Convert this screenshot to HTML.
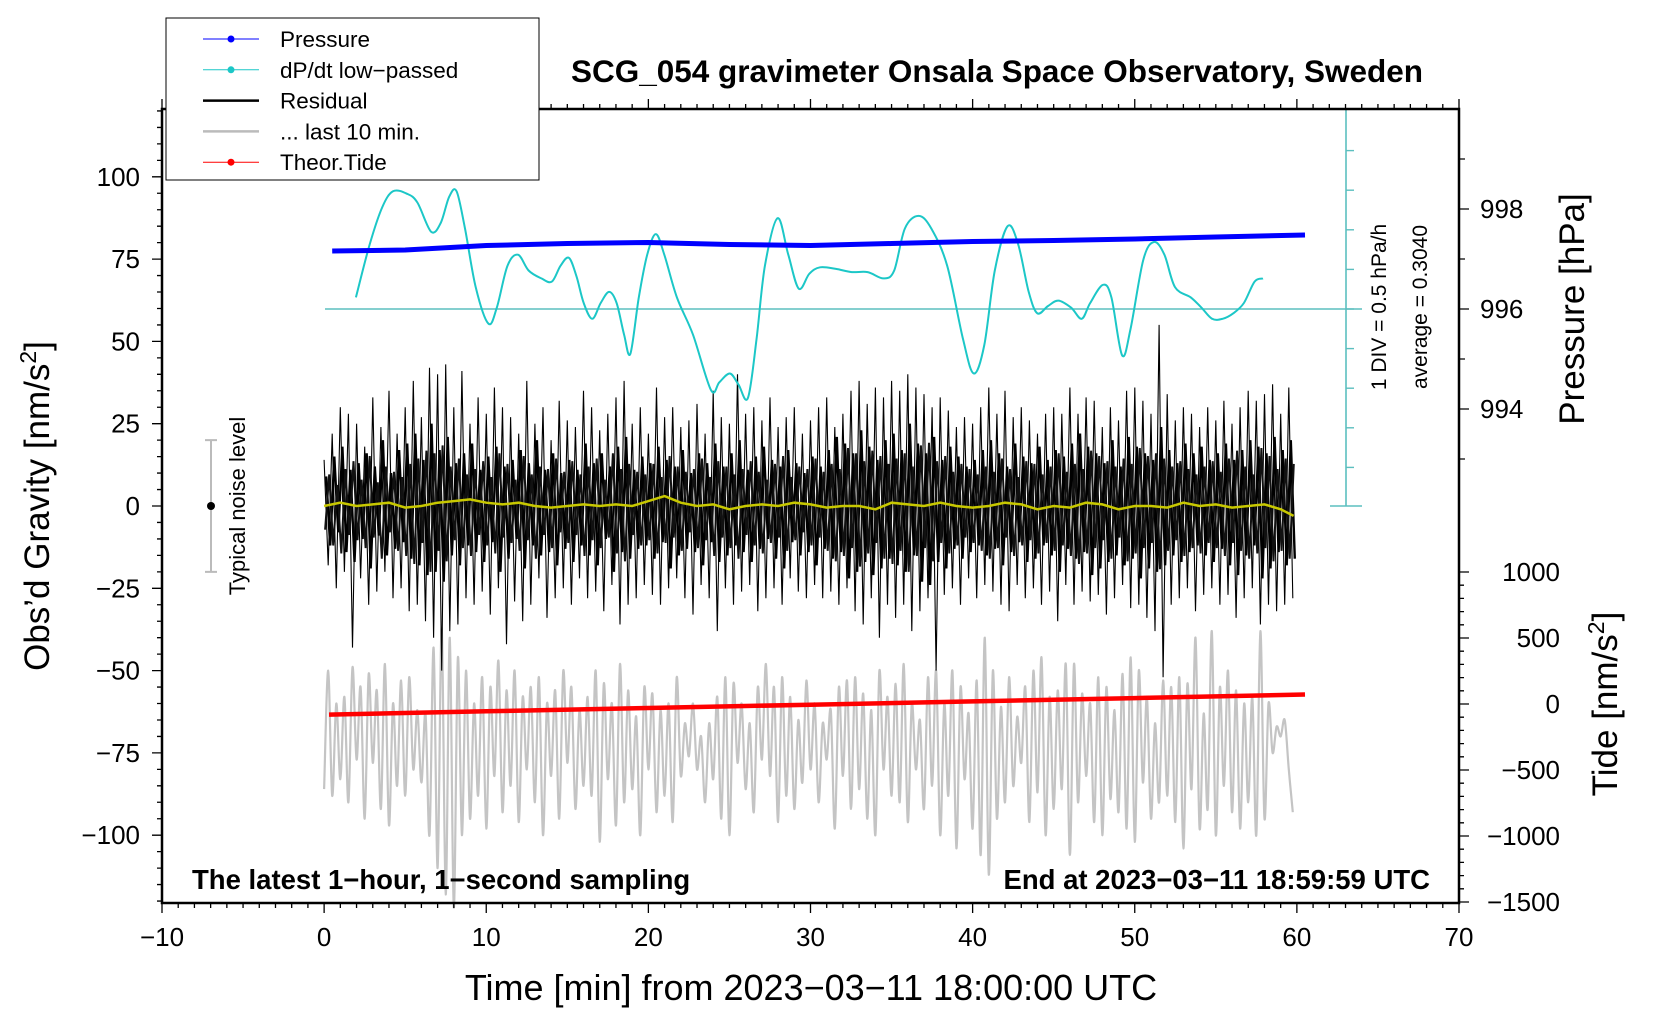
<!DOCTYPE html>
<html><head><meta charset="utf-8">
<style>
html,body{margin:0;padding:0;background:#fff;overflow:hidden;}
svg{display:block;font-family:"Liberation Sans",sans-serif;}
</style></head>
<body>
<svg id="chart" width="1660" height="1020" viewBox="0 0 1660 1020" xmlns="http://www.w3.org/2000/svg">
<rect width="1660" height="1020" fill="#fff"/>
<g id="plot"></g>
<g id="axes"></g>
<text x="997" y="82" text-anchor="middle" font-size="31.5" font-weight="bold">SCG_054 gravimeter Onsala Space Observatory, Sweden</text>
<text x="811" y="1000" text-anchor="middle" font-size="36">Time [min] from 2023−03−11 18:00:00 UTC</text>
<text transform="translate(49,506) rotate(-90)" text-anchor="middle" font-size="35">Obs’d Gravity [nm/s<tspan font-size="23" dy="-13">2</tspan><tspan dy="13">]</tspan></text>
<text transform="translate(1584,309) rotate(-90)" text-anchor="middle" font-size="35">Pressure [hPa]</text>
<text transform="translate(1617,704) rotate(-90)" text-anchor="middle" font-size="35">Tide [nm/s<tspan font-size="23" dy="-13">2</tspan><tspan dy="13">]</tspan></text>
<text transform="translate(1386,307) rotate(-90)" text-anchor="middle" font-size="21">1 DIV = 0.5 hPa/h</text>
<text transform="translate(1427,307) rotate(-90)" text-anchor="middle" font-size="21">average = 0.3040</text>
<text transform="translate(245,506) rotate(-90)" text-anchor="middle" font-size="22">Typical noise level</text>
<text x="192" y="889" font-size="27.5" font-weight="bold">The latest 1−hour, 1−second sampling</text>
<text x="1430" y="889" text-anchor="end" font-size="27.5" font-weight="bold">End at 2023−03−11 18:59:59 UTC</text>
<g id="legend"></g>
</svg>
<script>
// ---- data ----
const xTicks=[-10,0,10,20,30,40,50,60,70];
const yTicks=[-100,-75,-50,-25,0,25,50,75,100];
const pTicks=[994,996,998];
const tideTicks=[-1500,-1000,-500,0,500,1000];
const dpdtT=[1.96,2.81,3.59,4.25,5.10,5.75,6.60,7.19,7.71,8.17,8.69,9.35,10.13,10.65,11.31,11.96,12.61,13.40,14.05,14.58,15.10,15.56,16.01,16.54,17.06,17.58,18.04,18.50,18.89,19.41,19.93,20.46,20.98,21.76,22.75,23.86,24.38,25.03,25.56,26.14,26.67,27.19,27.97,28.63,29.28,29.93,30.59,31.57,32.55,33.53,34.51,35.16,35.82,36.67,37.45,38.43,39.41,40.07,40.72,41.37,42.16,42.81,43.46,43.99,44.64,45.29,46.08,46.73,47.25,48.04,48.56,49.22,49.74,50.52,51.18,51.83,52.48,53.46,54.12,54.77,55.42,56.08,56.73,57.39,57.91];
const dpdtV=[0.45,1.12,1.59,1.79,1.76,1.65,1.28,1.39,1.72,1.79,1.32,0.58,0.12,0.32,0.85,0.99,0.79,0.69,0.65,0.85,0.95,0.72,0.38,0.18,0.38,0.52,0.38,-0.02,-0.26,0.45,0.99,1.25,0.99,0.45,-0.02,-0.72,-0.62,-0.51,-0.65,-0.82,-0.08,0.85,1.45,0.99,0.56,0.75,0.83,0.81,0.77,0.77,0.69,0.79,1.32,1.48,1.32,0.85,-0.08,-0.51,-0.15,0.79,1.35,1.12,0.52,0.25,0.34,0.41,0.32,0.18,0.38,0.61,0.45,-0.28,0.05,0.92,1.15,0.99,0.58,0.45,0.32,0.18,0.18,0.25,0.38,0.65,0.69];
const dpdtAvg=0.304;
const presT=[0.5,5,10,15,20,25,30,35,40,45,50,55,60.5];
const presV=[997.16,997.18,997.27,997.31,997.33,997.29,997.27,997.31,997.35,997.37,997.40,997.44,997.48];
const tideT=[0.3,10,20,30,40,50,60.5];
const tideV=[-80,-55,-30,-5,20,45,72];
const resid=[14,-18,22,-25,30,-20,28,-43,25,-22,18,-30,33,-26,24,-20,35,-28,22,-25,
30,-32,38,-30,27,-35,42,-40,40,-50,43,-38,30,-36,41,-28,25,-30,33,-26,
28,-33,36,-25,30,-42,27,-29,22,-35,38,-30,25,-22,30,-34,20,-28,32,-25,
26,-30,24,-22,35,-28,30,-26,23,-32,28,-24,33,-36,38,-30,25,-28,30,-24,
22,-27,36,-30,27,-25,30,-22,24,-28,26,-33,31,-24,22,-28,35,-38,27,-25,
25,-30,40,-26,28,-24,30,-32,26,-28,33,-25,24,-30,27,-22,30,-26,22,-28,
26,-24,30,-28,33,-26,24,-30,28,-25,35,-32,38,-36,31,-28,36,-40,33,-30,
38,-34,35,-30,40,-38,36,-32,34,-28,30,-50,33,-27,29,-25,24,-30,27,-22,
25,-28,30,-24,36,-26,28,-30,35,-32,27,-24,30,-28,26,-25,22,-30,28,-26,
30,-35,28,-24,36,-30,28,-26,33,-29,32,-27,24,-33,30,-28,26,-24,35,-31,
36,-30,32,-34,28,-38,55,-52,34,-30,26,-28,30,-25,28,-32,24,-27,30,-25,
26,-30,32,-27,25,-34,30,-28,35,-25,32,-36,34,-30,37,-32,28,-30,36,-28];
const resid2=[9,-12,15,-8,18,-14,11,-17,13,-10,16,-19,12,-9,20,-15,10,-13,17,-11,
19,-16,22,-18,14,-21,25,-20,17,-23,21,-15,13,-18,16,-12,19,-14,11,-17,
15,-11,18,-20,12,-16,14,-10,17,-19,13,-12,20,-15,11,-14,16,-18,10,-13,
14,-17,11,-12,19,-15,13,-18,16,-10,12,-20,18,-14,21,-16,11,-13,15,-12,
13,-16,18,-11,14,-19,12,-15,17,-13,10,-14,16,-18,13,-11,19,-17,12,-15,
16,-12,20,-14,11,-17,15,-13,18,-10,14,-16,12,-19,17,-11,13,-15,10,-14,
15,-18,12,-13,17,-16,21,-14,19,-22,16,-20,23,-17,18,-21,14,-19,20,-16,
22,-18,17,-20,25,-15,19,-23,16,-24,21,-17,14,-19,18,-13,15,-16,12,-14,
14,-12,17,-15,20,-13,16,-18,12,-14,19,-11,15,-17,13,-16,18,-12,14,-15,
17,-20,15,-13,19,-16,22,-14,18,-21,16,-19,13,-17,20,-15,12,-18,21,-16,
18,-22,16,-19,14,-20,24,-18,17,-15,13,-17,19,-14,16,-12,18,-15,14,-17,
16,-13,19,-18,14,-21,17,-15,20,-12,18,-22,16,-19,21,-14,17,-18,20,-16];
const gray=[-86,-50,-88,-60,-83,-58,-90,-49,-77,-55,-95,-51,-78,-56,-92,-48,-97,-60,-85,-53,
-88,-52,-80,-62,-84,-63,-100,-43,-110,-37,-118,-40,-122,-46,-100,-50,-95,-60,-88,-52,
-98,-55,-82,-47,-93,-56,-85,-50,-96,-58,-80,-55,-90,-52,-100,-60,-82,-56,-95,-50,
-78,-55,-92,-62,-85,-58,-88,-50,-102,-54,-83,-60,-97,-48,-90,-56,-86,-64,-100,-55,
-80,-57,-93,-62,-88,-60,-96,-52,-82,-66,-76,-60,-80,-70,-90,-66,-83,-58,-95,-52,
-100,-54,-78,-60,-86,-66,-93,-55,-77,-48,-82,-55,-96,-52,-88,-58,-92,-65,-84,-53,
-80,-60,-90,-66,-77,-62,-98,-55,-82,-53,-92,-52,-86,-57,-95,-62,-100,-50,-80,-58,
-88,-54,-90,-48,-96,-60,-80,-65,-92,-52,-85,-50,-100,-60,-88,-50,-104,-55,-83,-63,
-98,-53,-106,-40,-112,-50,-95,-61,-90,-52,-85,-64,-78,-55,-96,-50,-87,-46,-100,-58,
-92,-56,-86,-48,-106,-48,-90,-57,-82,-60,-96,-52,-100,-55,-89,-62,-93,-51,-98,-46,
-102,-50,-84,-58,-95,-66,-90,-53,-88,-55,-96,-52,-104,-54,-86,-40,-98,-63,-92,-38,
-100,-55,-85,-50,-93,-56,-98,-60,-90,-58,-100,-38,-95,-60,-75,-67,-70,-65,-80,-93];
const yellow=[0,1,0,0.5,1,-0.5,0,1,1.5,2,1,0.5,1,0,-0.5,0,0.5,0,0.5,0,1.5,3,1,0,0.5,-1,0,0.5,0,1,0.5,-0.5,0,0,-1,1,0.5,0,1,0,-0.5,0,1,0.5,-1,0,-0.5,1,0.5,-1,0,0,-0.5,1,0,0.5,-0.5,0,0.5,-1,-3];

// ---- scales ----
const L=162,R=1459,T=109,B=903;
const X=t=>L+(t+10)*(R-L)/80;
const Y=v=>506-v*3.292;
const P=p=>309-(p-996)*50;
const TD=v=>704-v*0.132;
const DP=v=>309-(v-dpdtAvg)/0.5*39.6;
const NS="http://www.w3.org/2000/svg";
function el(tag,attrs,parent){const e=document.createElementNS(NS,tag);for(const k in attrs)e.setAttribute(k,attrs[k]);parent.appendChild(e);return e;}
const plot=document.getElementById('plot'),axes=document.getElementById('axes');
function smooth(pts){let d='M'+pts[0][0].toFixed(1)+' '+pts[0][1].toFixed(1);
 for(let i=0;i<pts.length-1;i++){const p0=pts[Math.max(i-1,0)],p1=pts[i],p2=pts[i+1],p3=pts[Math.min(i+2,pts.length-1)];
 d+=`C${(p1[0]+(p2[0]-p0[0])/6).toFixed(1)} ${(p1[1]+(p2[1]-p0[1])/6).toFixed(1)} ${(p2[0]-(p3[0]-p1[0])/6).toFixed(1)} ${(p2[1]-(p3[1]-p1[1])/6).toFixed(1)} ${p2[0].toFixed(1)} ${p2[1].toFixed(1)}`;}
 return d;}

// noise level marker
let nb=el('path',{d:`M211 ${Y(20)}V${Y(-20)}M205 ${Y(20)}H217M205 ${Y(-20)}H217`,stroke:'#bbb','stroke-width':2,fill:'none'},plot);


let nd=el('circle',{cx:211,cy:Y(0),r:4,fill:'#000'},plot);



// gray last 10 min series
let gp=el('path',{d:smooth(gray.map((v,i)=>[X(i*0.25),Y(v)])),stroke:'#c4c4c4','stroke-width':2.2,fill:'none'},plot);



// residual spikes
let rd='';resid.forEach((v,i)=>{rd+=(i?'L':'M')+X(i*0.25).toFixed(1)+' '+Y(v).toFixed(1);});
let rp=el('path',{d:rd,stroke:'#000','stroke-width':1.1,fill:'none'},plot);


// residual dense core
let rd2='';resid2.forEach((v,i)=>{rd2+=(i?'L':'M')+X(i*0.25+0.125).toFixed(1)+' '+Y(v).toFixed(1);});
let rp2=el('path',{d:rd2,stroke:'#000','stroke-width':2.4,fill:'none'},plot);


let rd3='';resid2.forEach((v,i)=>{rd3+=(i?'L':'M')+X(i*0.25+0.06).toFixed(1)+' '+Y(-v*0.8).toFixed(1);});
let rp3=el('path',{d:rd3,stroke:'#111','stroke-width':2,fill:'none'},plot);


// yellow smoothed
let yd='';yellow.forEach((v,i)=>{yd+=(i?'L':'M')+X(Math.min(i,59.8)).toFixed(1)+' '+Y(v).toFixed(1);});
let yp=el('path',{d:yd,stroke:'#c8c800','stroke-width':2.5,fill:'none'},plot);



// tide
let td='';tideT.forEach((t,i)=>{td+=(i?'L':'M')+X(t).toFixed(1)+' '+TD(tideV[i]).toFixed(1);});
let tp=el('path',{d:td,stroke:'#f00','stroke-width':4.5,fill:'none'},plot);



// dP/dt axis & baseline
const cx=1346;
let dax=el('path',{d:`M${cx} ${T}V506M1330 506H1362M325 ${DP(dpdtAvg)}H1362`,stroke:'#5cbfbf','stroke-width':1.6,fill:'none'},plot);


for(let k=-5;k<=4;k++){const y=DP(dpdtAvg+k*0.5);if(y<T+2||y>505)continue;
 let tk=el('line',{x1:cx,x2:1354,y1:y,y2:y,stroke:'#5cbfbf','stroke-width':1.4},plot);
 
 }
let cp=el('path',{d:smooth(dpdtT.map((t,i)=>[X(t),DP(dpdtV[i])])),stroke:'#1cc7c7','stroke-width':2,fill:'none'},plot);



// pressure
let pd='';presT.forEach((t,i)=>{pd+=(i?'L':'M')+X(t).toFixed(1)+' '+P(presV[i]).toFixed(1);});
let pp=el('path',{d:pd,stroke:'#0000ff','stroke-width':5,fill:'none','stroke-linejoin':'round'},plot);



// frame
let fr=el('rect',{x:L,y:T,width:R-L,height:B-T,fill:'none',stroke:'#000','stroke-width':2.5},axes);


let tk='';
for(let m=-10;m<=70;m++){const x=X(m);const len=(m%10===0)?10:5;tk+=`M${x} ${B}v${len}M${x} ${T}v${-len}`;}
for(let v=-120;v<=120;v+=5){const y=Y(v);const len=(v%25===0)?10:5;tk+=`M${L} ${y}h${-len}`;}
for(let p=993;p<=999;p++){const y=P(p);tk+=`M${R} ${y}h${p%2===0?10:6}`;}
for(let v=-1500;v<=1000;v+=100){const y=TD(v);tk+=`M${R} ${y}h${v%500===0?10:5}`;}
let tkp=el('path',{d:tk,stroke:'#000','stroke-width':1.3,fill:'none'},axes);


xTicks.forEach(v=>{let t=el('text',{x:X(v),y:946,'text-anchor':'middle','font-size':26},axes);t.textContent=v<0?'−'+(-v):v;
 
 });
yTicks.forEach(v=>{let t=el('text',{x:140,y:Y(v)+9,'text-anchor':'end','font-size':26},axes);t.textContent=v<0?'−'+(-v):v;
 
 });
pTicks.forEach(v=>{let t=el('text',{x:1480,y:P(v)+9,'font-size':26},axes);t.textContent=v;
 
 });
tideTicks.forEach(v=>{let t=el('text',{x:1560,y:TD(v)+9,'text-anchor':'end','font-size':26},axes);t.textContent=v<0?'−'+(-v):v;
 
 });

// legend
const lg=document.getElementById('legend');
el('rect',{x:166,y:18,width:373,height:162,fill:'#fff',stroke:'#000','stroke-width':1},lg);
const entries=[['Pressure','#0000ff',1,true],['dP/dt low−passed','#1cc7c7',1,true],['Residual','#000',2.5,false],['... last 10 min.','#bbb',2.5,false],['Theor.Tide','#f00',1,true]];
entries.forEach((e,i)=>{const y=39+i*30.8;
 const g=el('g',{},lg);
 
 
 el('line',{x1:203,x2:259,y1:y,y2:y,stroke:e[1],'stroke-width':e[2]},g);
 if(e[3])el('circle',{cx:231,cy:y,r:3.5,fill:e[1]},g);
 const t=el('text',{x:280,y:y+8,'font-size':22.5},g);t.textContent=e[0];});
</script>
</body></html>
